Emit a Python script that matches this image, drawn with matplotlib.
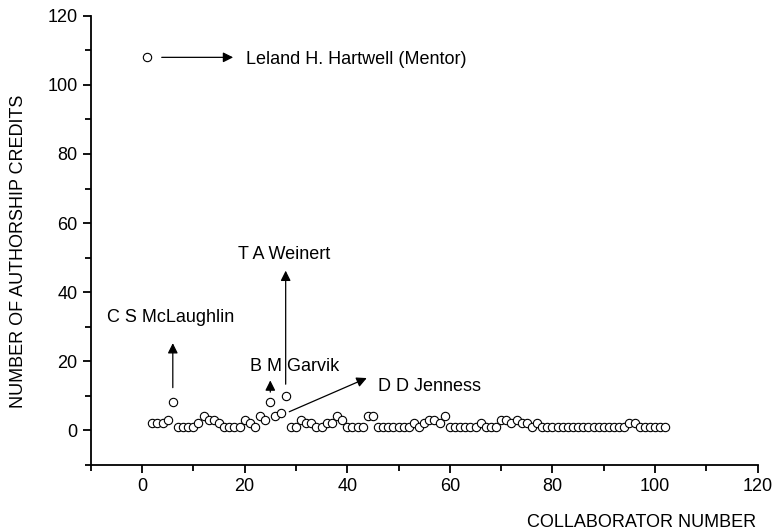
import matplotlib
matplotlib.use("Agg")
import matplotlib.pyplot as plt
from matplotlib.ticker import MultipleLocator

plt.rcParams['font.family'] = ['Liberation Sans', 'DejaVu Sans']

collaborator = list(range(1, 103))
credits = [108, 2, 2, 2, 3, 8, 1, 1, 1, 1,
           2, 4, 3, 3, 2, 1, 1, 1, 1, 3,
           2, 1, 4, 3, 8, 4, 5, 10, 1, 1,
           3, 2, 2, 1, 1, 2, 2, 4, 3, 1,
           1, 1, 1, 4, 4, 1, 1, 1, 1, 1,
           1, 1, 2, 1, 2, 3, 3, 2, 4, 1,
           1, 1, 1, 1, 1, 2, 1, 1, 1, 3,
           3, 2, 3, 2, 2, 1, 2, 1, 1, 1,
           1, 1, 1, 1, 1, 1, 1, 1, 1, 1,
           1, 1, 1, 1, 2, 2, 1, 1, 1, 1,
           1, 1]

xlabel = "COLLABORATOR NUMBER"
ylabel = "NUMBER OF AUTHORSHIP CREDITS"

fig = plt.figure(figsize=(7.72, 5.31), dpi=100)
ax = fig.add_axes([0.1175, 0.125, 0.864, 0.845])
ax.plot(collaborator, credits, linestyle='none', marker='o', markersize=6,
        markerfacecolor='white', markeredgecolor='black', markeredgewidth=0.8)

ax.set_xlim(-10, 120)
ax.set_ylim(-10, 120)
ax.xaxis.set_minor_locator(MultipleLocator(10))
ax.yaxis.set_minor_locator(MultipleLocator(10))
ax.set_xticks([0, 20, 40, 60, 80, 100, 120])
ax.set_yticks([0, 20, 40, 60, 80, 100, 120])
for s in ['top', 'right']:
    ax.spines[s].set_visible(False)
for s in ['left', 'bottom']:
    ax.spines[s].set_linewidth(1.3)
ax.tick_params(which='major', direction='out', length=6, width=1.3, labelsize=13)
ax.tick_params(which='minor', direction='out', length=4, width=1.3)

ax.set_ylabel(ylabel, fontsize=13, va='center')
ax.yaxis.set_label_coords(-0.108, 0.476)
ax.set_xlabel(xlabel, fontsize=13, ha='right', va='center')
ax.xaxis.set_label_coords(0.997, -0.128)

ap = dict(arrowstyle='-|>', color='black', lw=0.9, mutation_scale=15)
fs = 13
ax.annotate('', xy=(18.3, 108), xytext=(3.3, 108), arrowprops=ap)
ax.text(20.3, 107.5, 'Leland H. Hartwell (Mentor)', fontsize=fs, va='center', ha='left')

ax.annotate('', xy=(6, 26), xytext=(6, 11.5), arrowprops=ap)
ax.text(5.5, 32.5, 'C S McLaughlin', fontsize=fs, va='center', ha='center')

ax.annotate('', xy=(25, 15.2), xytext=(25, 10.2), arrowprops=ap)
ax.text(29.7, 18.3, 'B M Garvik', fontsize=fs, va='center', ha='center')

ax.annotate('', xy=(28, 47), xytext=(28, 12.5), arrowprops=ap)
ax.text(27.7, 51, 'T A Weinert', fontsize=fs, va='center', ha='center')

ax.annotate('', xy=(44.3, 15.4), xytext=(28.2, 5.0), arrowprops=ap)
ax.text(45.9, 12.5, 'D D Jenness', fontsize=fs, va='center', ha='left')

fig.savefig('out.png', dpi=100)
